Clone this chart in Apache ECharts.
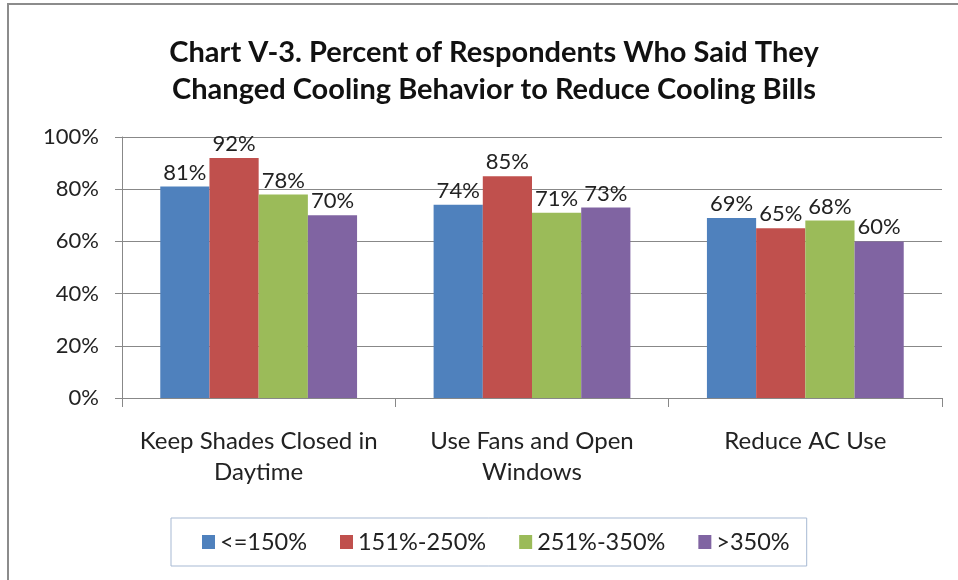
<!DOCTYPE html>
<html>
<head>
<meta charset="utf-8">
<title>Chart V-3</title>
<script src="https://cdn.jsdelivr.net/npm/echarts@6/dist/echarts.min.js"></script>
<style>
    html, body { margin: 0; padding: 0; background: #fff; }
    #chart { width: 958px; height: 580px; }
</style>
</head>
<body>
<div id="chart"></div>
<script>
// 数据
const categories = ['Keep Shades Closed in\nDaytime', 'Use Fans and Open\nWindows', 'Reduce AC Use'];
const seriesNames = ['<=150%', '151%-250%', '251%-350%', '>350%'];
const low = [81, 74, 69];
const mid = [92, 85, 65];
const high = [78, 71, 68];
const top350 = [70, 73, 60];
const yTicks = [0, 20, 40, 60, 80, 100];

const colors = ['#4F81BD', '#C0504D', '#9BBB59', '#8064A2'];
const font = 'Lato, "Liberation Sans", sans-serif';

const chart = echarts.init(document.getElementById('chart'));

function bar(name, data, color) {
    return {
        name: name,
        type: 'bar',
        data: data,
        barGap: '0%',
        barCategoryGap: '28%',
        itemStyle: { color: color },
        label: {
            show: true,
            position: 'top',
            distance: 3,
            formatter: '{c}%',
            fontFamily: font,
            fontSize: 22,
            color: '#222'
        }
    };
}

const option = {
    animation: false,
    backgroundColor: '#fff',
    title: {
        text: 'Chart V-3. Percent of Respondents Who Said They\nChanged Cooling Behavior to Reduce Cooling Bills',
        left: 489,
        textAlign: 'center',
        top: 29,
        textStyle: {
            fontFamily: font,
            fontSize: 29,
            fontWeight: 'bold',
            color: '#111',
            lineHeight: 37
        }
    },
    graphic: [{
        type: 'rect',
        shape: { x: 8, y: 4, width: 1000, height: 1000 },
        style: { fill: 'none', stroke: '#8c8c8c', lineWidth: 2 },
        silent: true
    }],
    legend: {
        data: seriesNames,
        left: 171,
        top: 518,
        orient: 'horizontal',
        borderColor: '#a7b9d3',
        borderWidth: 1,
        padding: [12, 17, 12, 31],
        itemGap: 33,
        itemWidth: 13,
        itemHeight: 14,
        icon: 'rect',
        textStyle: { fontFamily: font, fontSize: 23.5, color: '#222' }
    },
    grid: {
        left: 122,
        right: 16,
        top: 137,
        bottom: 182,
        containLabel: false
    },
    xAxis: {
        type: 'category',
        data: categories,
        axisLine: { lineStyle: { color: '#888', width: 1 } },
        axisTick: { show: true, length: 9, alignWithLabel: false, lineStyle: { color: '#888' } },
        axisLabel: {
            interval: 0,
            margin: 28,
            fontFamily: font,
            fontSize: 24,
            lineHeight: 31,
            color: '#222'
        }
    },
    yAxis: {
        type: 'value',
        min: yTicks[0],
        max: yTicks[yTicks.length - 1],
        interval: 20,
        axisLine: { show: true, lineStyle: { color: '#888' } },
        axisTick: { show: true, length: 7, inside: false, lineStyle: { color: '#888' } },
        splitLine: { lineStyle: { color: '#888', width: 1 } },
        axisLabel: {
            margin: 23,
            formatter: '{value}%',
            fontFamily: font,
            fontSize: 22,
            color: '#222'
        }
    },
    series: [
        bar(seriesNames[0], low, colors[0]),
        bar(seriesNames[1], mid, colors[1]),
        bar(seriesNames[2], high, colors[2]),
        bar(seriesNames[3], top350, colors[3])
    ]
};

chart.setOption(option);

window.addEventListener('resize', () => {
    chart && chart.resize();
});
</script>
</body>
</html>
